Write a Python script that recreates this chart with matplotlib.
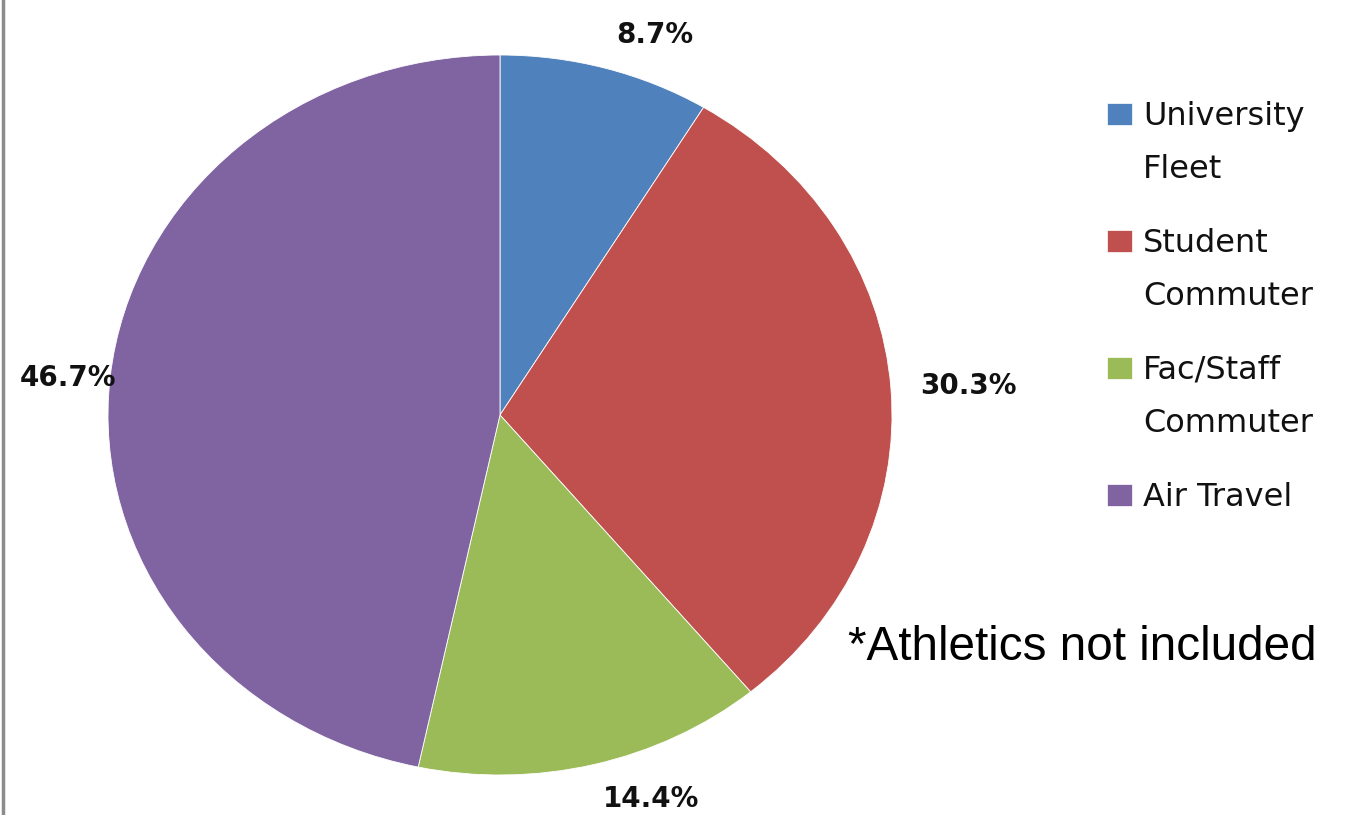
import matplotlib.pyplot as plt
from matplotlib.patches import Rectangle
from matplotlib.lines import Line2D
import numpy as np

categories = [["University", "Fleet"], ["Student", "Commuter"],
              ["Fac/Staff", "Commuter"], ["Air Travel"]]
shares = [8.7, 30.3, 14.4, 46.7]
pct_labels = ["8.7%", "30.3%", "14.4%", "46.7%"]
colors = ["#4F81BD", "#C0504D", "#9BBB59", "#8064A2"]
note = "*Athletics not included"

W, H = 1354, 815
fig = plt.figure(figsize=(W / 100, H / 100), dpi=100)

# pie is a bit wider than tall in the picture, so use a non-square axes
cx, cy, rx, ry = 500, 415, 392, 360
ax = fig.add_axes([(cx - rx) / W, (H - cy - ry) / H, 2 * rx / W, 2 * ry / H])
wedges, texts = ax.pie(shares, colors=colors, startangle=90, counterclock=False,
                       radius=1, labels=pct_labels, labeldistance=1.1,
                       wedgeprops=dict(edgecolor="white", linewidth=0.6),
                       textprops=dict(fontsize=20, fontweight="bold",
                                      family="DejaVu Sans", color="#111111"))
ax.set_aspect("auto")
ax.set_xlim(-1, 1)
ax.set_ylim(-1, 1)

# Excel put the big label a bit closer in
label_dist = [1.095, 1.075, 1.1, 0.985]
for w, t, d in zip(wedges, texts, label_dist):
    ang = np.deg2rad((w.theta1 + w.theta2) / 2)
    t.set_position((d * np.cos(ang), d * np.sin(ang)))

# legend, drawn by hand so the square sits on the first line
for i, (lines, col) in enumerate(zip(categories, colors)):
    ytop = 103 + i * 127
    fig.add_artist(Rectangle((1107 / W, 1 - (ytop + 22) / H), 25 / W, 22 / H,
                             transform=fig.transFigure, facecolor=col,
                             edgecolor="white", linewidth=0.5))
    for j, line in enumerate(lines):
        fig.text(1143 / W, 1 - (ytop + 22 + j * 53) / H, line, fontsize=23,
                 family="DejaVu Sans", va="baseline", ha="left", color="#111111")

fig.text(848 / W, 1 - 660 / H, note, fontsize=34.3, family="Liberation Sans",
         ha="left", va="baseline")

fig.add_artist(Line2D([3 / W, 3 / W], [0, 1], color="#8c8c8c", linewidth=2.5,
                      transform=fig.transFigure))

fig.savefig("out.png", dpi=100)
